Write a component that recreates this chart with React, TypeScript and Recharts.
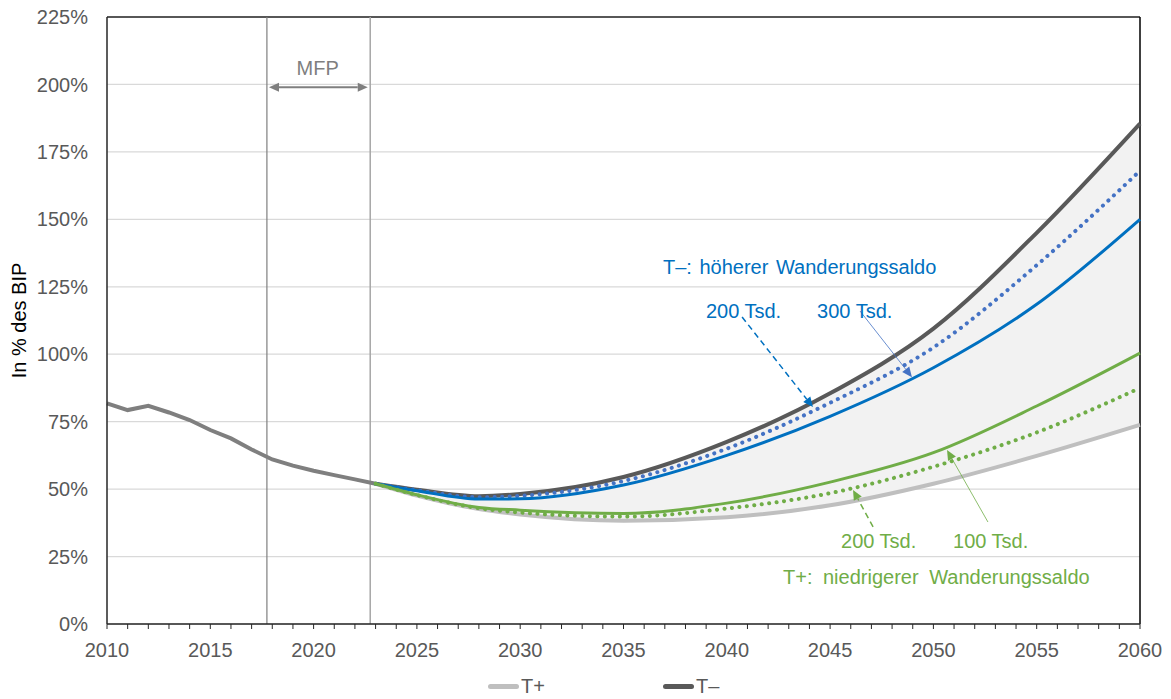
import {
  ComposedChart,
  Line,
  Area,
  XAxis,
  YAxis,
  CartesianGrid,
  ReferenceLine,
  ReferenceDot
} from 'recharts'

// Schuldenquote bis 2023 (Ist + MFP)
const histYears = [2010, 2011, 2012, 2013, 2014, 2015, 2016, 2017, 2018, 2019, 2020, 2021, 2022, 2023]
const histDebt = [81.8, 79.3, 80.9, 78.4, 75.6, 71.9, 68.8, 64.7, 61.0, 58.7, 56.8, 55.2, 53.6, 52.0]

// Projektionen ab 2023
const projYears = [2023, 2025, 2028, 2030, 2035, 2040, 2045, 2050, 2055, 2060]
const tMinus = [52.0, 49.8, 47.4, 48.2, 54.5, 67.5, 85.5, 109.5, 145.0, 185.5]
const tMinus200 = [52.0, 49.6, 47.0, 47.5, 53.0, 65.0, 82.0, 102.5, 133.0, 168.0]
const tMinus300 = [52.0, 49.4, 46.3, 46.4, 51.5, 62.5, 77.0, 95.0, 118.5, 150.0]
const tPlus100 = [52.0, 47.9, 43.2, 42.2, 41.0, 44.8, 52.6, 63.5, 80.8, 100.4]
const tPlus200 = [52.0, 47.8, 42.9, 41.3, 39.8, 42.8, 48.5, 58.3, 71.0, 87.5]
const tPlus = [52.0, 47.6, 42.6, 40.6, 38.3, 39.6, 44.0, 52.0, 62.3, 73.8]

const yTicks = [0, 25, 50, 75, 100, 125, 150, 175, 200, 225]
const xTicks = Array.from({ length: 51 }, (_, i) => 2010 + i)

const legendItems = [
  { name: 'T+', color: '#bfbfbf' },
  { name: 'T\u2013', color: '#595959' }
]

const BLUE = '#0070C0'
const BLUE_DOT = '#4472C4'
const GREEN = '#70AD47'
const FONT = '"Liberation Sans", Arial, sans-serif'

type Row = {
  year: number
  hist?: number
  tMinus?: number
  tMinus200?: number
  tMinus300?: number
  tPlus100?: number
  tPlus200?: number
  tPlus?: number
  band?: [number, number]
}

const rowMap = new Map<number, Row>()
histYears.forEach((year, i) => rowMap.set(year, { year, hist: histDebt[i] }))
projYears.forEach((year, i) => {
  const row = rowMap.get(year) ?? { year }
  Object.assign(row, {
    tMinus: tMinus[i],
    tMinus200: tMinus200[i],
    tMinus300: tMinus300[i],
    tPlus100: tPlus100[i],
    tPlus200: tPlus200[i],
    tPlus: tPlus[i],
    band: [tPlus[i], tMinus[i]]
  })
  rowMap.set(year, row)
})
const rows = [...rowMap.values()].sort((a, b) => a.year - b.year)

// arrow drawn between the two endpoints of a ReferenceLine segment
const arrowShape =
  (color: string, width: number, dash?: string, both = false) =>
  (p: any) => {
    const { x1, y1, x2, y2 } = p
    const L = 10
    const W = 4.5
    const head = (tx: number, ty: number, fx: number, fy: number) => {
      const a = Math.atan2(ty - fy, tx - fx)
      const c = Math.cos(a)
      const s = Math.sin(a)
      const bx = tx - L * c
      const by = ty - L * s
      return {
        pts: `${tx},${ty} ${bx + W * s},${by - W * c} ${bx - W * s},${by + W * c}`,
        bx,
        by
      }
    }
    const end = head(x2, y2, x1, y1)
    const start = both ? head(x1, y1, x2, y2) : null
    return (
      <g>
        <line
          x1={start ? start.bx : x1}
          y1={start ? start.by : y1}
          x2={end.bx}
          y2={end.by}
          stroke={color}
          strokeWidth={width}
          strokeDasharray={dash}
        />
        <polygon points={end.pts} fill={color} />
        {start && <polygon points={start.pts} fill={color} />}
      </g>
    )
  }

const noteShape = (text: string, color: string, wordSpacing = 0, anchor = 'start') => (p: any) =>
  (
    <text
      x={p.cx}
      y={p.cy}
      fill={color}
      fontSize={20}
      fontFamily={FONT}
      textAnchor={anchor}
      style={{ wordSpacing }}
    >
      {text}
    </text>
  )

const notes = [
  { x: 2036.91, y: 129.7, text: 'T\u2013: höherer Wanderungssaldo', color: BLUE, ws: 2 },
  { x: 2038.99, y: 113.4, text: '200 Tsd.', color: BLUE, ws: 0 },
  { x: 2044.37, y: 113.4, text: '300 Tsd.', color: BLUE, ws: 0 },
  { x: 2045.53, y: 28.2, text: '200 Tsd.', color: GREEN, ws: 0 },
  { x: 2050.95, y: 28.2, text: '100 Tsd.', color: GREEN, ws: 0 },
  { x: 2042.72, y: 14.8, text: 'T+: niedrigerer Wanderungssaldo', color: GREEN, ws: 5 }
]

const arrows = [
  { from: { x: 2040.74, y: 113.8 }, to: { x: 2044.17, y: 80.4 }, color: BLUE, w: 1.5, dash: '6 4' },
  { from: { x: 2046.45, y: 116.0 }, to: { x: 2048.96, y: 91.5 }, color: BLUE_DOT, w: 0.8 },
  { from: { x: 2047.08, y: 36.0 }, to: { x: 2046.11, y: 49.7 }, color: GREEN, w: 1.5, dash: '6 4' },
  { from: { x: 2052.64, y: 37.8 }, to: { x: 2050.66, y: 64.5 }, color: GREEN, w: 0.8 }
]

export default function App() {
  return (
    <div style={{ position: 'absolute', left: 0, top: 0, width: 1171, height: 699, background: '#fff', fontFamily: FONT }}>
      <ComposedChart
        width={1171}
        height={699}
        data={rows}
        margin={{ top: 17, right: 31, left: 47, bottom: 45 }}
      >
        <CartesianGrid horizontal vertical={false} stroke="#d9d9d9" strokeWidth={1.2} />
        <XAxis
          dataKey="year"
          type="number"
          domain={[2010, 2060]}
          ticks={xTicks}
          interval={0}
          tickFormatter={(v: number) => (v % 5 === 0 ? String(v) : '')}
          tickSize={5}
          tickMargin={14}
          axisLine={{ stroke: '#262626', strokeWidth: 1.5 }}
          tickLine={{ stroke: '#262626' }}
          tick={{ fill: '#595959', fontSize: 20, fontFamily: FONT }}
        />
        <YAxis
          type="number"
          domain={[0, 225]}
          ticks={yTicks}
          interval={0}
          width={60}
          tickSize={0}
          tickMargin={19}
          tickFormatter={(v: number) => `${v}%`}
          axisLine={{ stroke: '#262626', strokeWidth: 1.5 }}
          tick={{ fill: '#595959', fontSize: 20, fontFamily: FONT }}
          label={{
            content: (props: any) => {
              const vb = props.viewBox || { x: 47, y: 17, height: 607 }
              const cx = vb.x - 28
              const cy = vb.y + vb.height / 2
              return (
                <text
                  x={cx}
                  y={cy}
                  transform={`rotate(-90 ${cx} ${cy})`}
                  textAnchor="middle"
                  dominantBaseline="central"
                  fontSize={20}
                  fontFamily={FONT}
                  fill="#000"
                >
                  In % des BIP
                </text>
              )
            }
          }}
        />
        <Area
          dataKey="band"
          type="monotone"
          stroke="none"
          fill="#f2f2f2"
          fillOpacity={1}
          isAnimationActive={false}
          activeDot={false}
        />
        <ReferenceLine y={225} stroke="#262626" strokeWidth={1.5} />
        <ReferenceLine x={2060} stroke="#000" strokeWidth={1.5} />
        <ReferenceLine x={2017.74} stroke="#7f7f7f" strokeWidth={1.2} />
        <ReferenceLine x={2022.74} stroke="#a6a6a6" strokeWidth={1.5} />
        <ReferenceLine
          segment={[{ x: 2017.84, y: 199.0 }, { x: 2022.62, y: 199.0 }]}
          shape={arrowShape('#7f7f7f', 2, undefined, true)}
        />
        <ReferenceDot x={2020.2} y={203.5} r={0} shape={noteShape('MFP', '#7f7f7f', 0, 'middle')} />

        <Line dataKey="hist" type="linear" stroke="#7f7f7f" strokeWidth={4} dot={false} activeDot={false} isAnimationActive={false} />
        <Line dataKey="tPlus" type="monotone" stroke="#bfbfbf" strokeWidth={4} dot={false} activeDot={false} isAnimationActive={false} />
        <Line dataKey="tMinus" type="monotone" stroke="#595959" strokeWidth={4} dot={false} activeDot={false} isAnimationActive={false} />
        <Line
          dataKey="tMinus200"
          type="monotone"
          stroke={BLUE_DOT}
          strokeWidth={4}
          strokeDasharray="0.1 7.4"
          strokeLinecap="round"
          dot={false}
          activeDot={false}
          isAnimationActive={false}
        />
        <Line dataKey="tMinus300" type="monotone" stroke={BLUE} strokeWidth={3} dot={false} activeDot={false} isAnimationActive={false} />
        <Line
          dataKey="tPlus200"
          type="monotone"
          stroke={GREEN}
          strokeWidth={4}
          strokeDasharray="0.1 7.4"
          strokeLinecap="round"
          dot={false}
          activeDot={false}
          isAnimationActive={false}
        />
        <Line dataKey="tPlus100" type="monotone" stroke={GREEN} strokeWidth={3} dot={false} activeDot={false} isAnimationActive={false} />

        {arrows.map((a, i) => (
          <ReferenceLine
            key={`arrow-${i}`}
            segment={[a.from, a.to]}
            shape={arrowShape(a.color, a.w, a.dash)}
          />
        ))}
        {notes.map((n, i) => (
          <ReferenceDot
            key={`note-${i}`}
            x={n.x}
            y={n.y}
            r={0}
            shape={noteShape(n.text, n.color, n.ws)}
          />
        ))}
      </ComposedChart>

      {/* legend (only the two scenario bounds) */}
      <div style={{ position: 'absolute', left: 488, top: 675, display: 'flex', alignItems: 'center' }}>
        {legendItems.map((item, i) => (
          <div
            key={item.name}
            style={{ display: 'flex', alignItems: 'center', width: i === 0 ? 175 : 'auto' }}
          >
            <span
              style={{
                display: 'inline-block',
                width: 31,
                height: 5,
                borderRadius: 3,
                background: item.color,
                marginRight: 2
              }}
            />
            <span style={{ fontSize: 20, color: '#595959', lineHeight: '22px' }}>{item.name}</span>
          </div>
        ))}
      </div>
    </div>
  )
}
